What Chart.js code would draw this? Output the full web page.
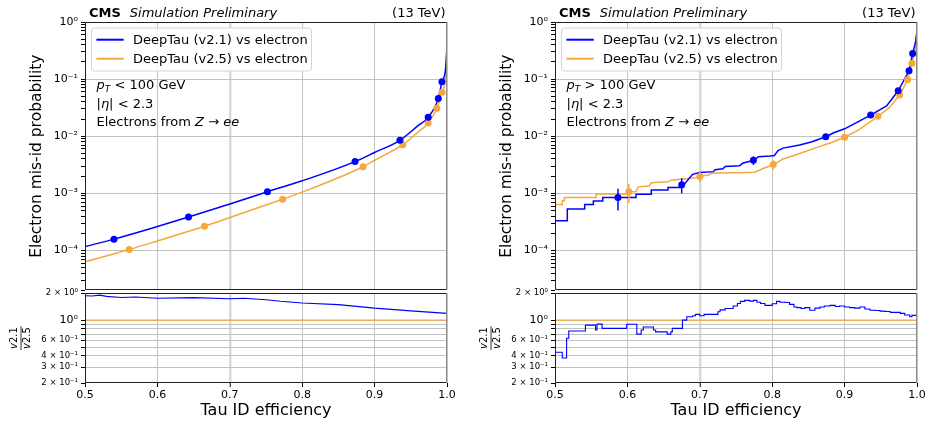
<!DOCTYPE html>
<html><head><meta charset="utf-8">
<script src="https://cdn.jsdelivr.net/npm/chart.js@4.4.1/dist/chart.umd.min.js"></script>
<style>
html,body{margin:0;padding:0;background:#fff;width:927px;height:423px;overflow:hidden;position:relative;}
canvas{position:absolute;}
</style></head><body>
<canvas id="lt" style="left:0px;top:0px" width="460" height="300"></canvas>
<canvas id="lb" style="left:0px;top:285px" width="460" height="138"></canvas>
<canvas id="rt" style="left:470px;top:0px" width="460" height="300"></canvas>
<canvas id="rb" style="left:470px;top:285px" width="460" height="138"></canvas>
<script>
// ---------------- data ----------------
const xTicks = [0.5, 0.6, 0.7, 0.8, 0.9, 1.0];
const probDecades = [1e-4, 1e-3, 1e-2, 1e-1, 1];
const probLabels = ['10⁻⁴', '10⁻³', '10⁻²', '10⁻¹', '10⁰'];
const ratioTicks = [0.2, 0.3, 0.4, 0.5, 0.6, 0.7, 0.8, 0.9, 1, 2];
const ratioLabels = {'0.2': '2 × 10⁻¹', '0.3': '3 × 10⁻¹', '0.4': '4 × 10⁻¹', '0.6': '6 × 10⁻¹', '1': '10⁰', '2': '2 × 10⁰'};
const seriesLabels = ['DeepTau (v2.1) vs electron', 'DeepTau (v2.5) vs electron'];
const headerLeft = ['CMS', 'Simulation Preliminary'];
const headerRight = '(13 TeV)';
const xTitle = 'Tau ID efficiency';
const yTitle = 'Electron mis-id probability';
const refRatio = 1;

// pT < 100 GeV
const lowV21Eff  = [0.500, 0.540, 0.600, 0.643, 0.700, 0.752, 0.800, 0.873, 0.900, 0.935, 0.960, 0.974, 0.988, 0.993, 0.998, 1.000];
const lowV21Prob = [1.17e-4, 1.58e-4, 2.63e-4, 3.85e-4, 6.5e-4, 1.07e-3, 1.66e-3, 3.6e-3, 5.2e-3, 8.5e-3, 1.53e-2, 2.14e-2, 4.6e-2, 8.97e-2, 0.15, 0.38];
const lowV25Eff  = [0.500, 0.561, 0.600, 0.665, 0.700, 0.773, 0.800, 0.884, 0.900, 0.939, 0.960, 0.974, 0.986, 0.993, 0.998, 1.000];
const lowV25Prob = [6.3e-5, 1.04e-4, 1.47e-4, 2.65e-4, 3.77e-4, 7.9e-4, 1.05e-3, 2.92e-3, 3.8e-3, 7.1e-3, 1.18e-2, 1.7e-2, 3.1e-2, 5.9e-2, 0.11, 0.33];
const lowV21MarkEff  = [0.540, 0.643, 0.752, 0.873, 0.935, 0.974, 0.988, 0.993];
const lowV21MarkProb = [1.58e-4, 3.85e-4, 1.07e-3, 3.6e-3, 8.5e-3, 2.14e-2, 4.6e-2, 8.97e-2];
const lowV25MarkEff  = [0.561, 0.665, 0.773, 0.884, 0.939, 0.974, 0.986, 0.993];
const lowV25MarkProb = [1.04e-4, 2.65e-4, 7.9e-4, 2.92e-3, 7.1e-3, 1.7e-2, 3.1e-2, 5.9e-2];
const lowRatioEff = [0.50, 0.51, 0.52, 0.53, 0.55, 0.57, 0.60, 0.65, 0.70, 0.72, 0.75, 0.77, 0.80, 0.85, 0.90, 0.95, 1.00];
const lowRatio    = [1.87, 1.86, 1.90, 1.84, 1.79, 1.81, 1.75, 1.78, 1.73, 1.75, 1.69, 1.62, 1.55, 1.49, 1.36, 1.27, 1.19];

// pT > 100 GeV (polyline vertices, steps kept as vertical pairs)
const highV21Eff  = [0.500, 0.517, 0.517, 0.541, 0.541, 0.553, 0.553, 0.566, 0.566, 0.612, 0.612, 0.633, 0.633, 0.656, 0.656, 0.673, 0.678, 0.690, 0.700, 0.719, 0.721, 0.732, 0.735, 0.755, 0.760, 0.775, 0.781, 0.797, 0.803, 0.808, 0.815, 0.838, 0.855, 0.874, 0.885, 0.900, 0.915, 0.936, 0.958, 0.974, 0.989, 0.994, 0.998, 1.000];
const highV21Prob = [3.3e-4, 3.3e-4, 5.3e-4, 5.3e-4, 6.4e-4, 6.4e-4, 7.35e-4, 7.35e-4, 8.5e-4, 8.5e-4, 9.6e-4, 9.6e-4, 1.15e-3, 1.15e-3, 1.26e-3, 1.26e-3, 1.42e-3, 2.15e-3, 2.32e-3, 2.4e-3, 2.6e-3, 2.7e-3, 2.95e-3, 3.05e-3, 3.4e-3, 3.8e-3, 4.37e-3, 4.5e-3, 4.6e-3, 5.6e-3, 6.2e-3, 7.0e-3, 8.0e-3, 9.8e-3, 1.15e-2, 1.35e-2, 1.7e-2, 2.35e-2, 3.4e-2, 6.25e-2, 0.14, 0.28, 0.45, 0.7];
const highV25Eff  = [0.500, 0.510, 0.510, 0.513, 0.513, 0.557, 0.557, 0.600, 0.605, 0.612, 0.615, 0.630, 0.633, 0.656, 0.660, 0.673, 0.693, 0.700, 0.712, 0.716, 0.776, 0.790, 0.800, 0.815, 0.838, 0.859, 0.880, 0.900, 0.920, 0.946, 0.962, 0.976, 0.987, 0.993, 0.998, 1.000];
const highV25Prob = [6.4e-4, 6.4e-4, 7.45e-4, 7.45e-4, 8.5e-4, 8.5e-4, 9.7e-4, 9.7e-4, 1.07e-3, 1.07e-3, 1.3e-3, 1.35e-3, 1.54e-3, 1.6e-3, 1.7e-3, 1.77e-3, 1.85e-3, 2.0e-3, 2.1e-3, 2.25e-3, 2.35e-3, 2.8e-3, 3.1e-3, 4.0e-3, 5.0e-3, 6.2e-3, 7.6e-3, 9.6e-3, 1.3e-2, 2.23e-2, 3.2e-2, 5.26e-2, 0.097, 0.19, 0.35, 0.65];
const highV21MarkEff  = [0.587, 0.675, 0.774, 0.874, 0.936, 0.974, 0.989, 0.994];
const highV21MarkProb = [8.5e-4, 1.42e-3, 3.8e-3, 9.8e-3, 2.35e-2, 6.25e-2, 0.14, 0.28];
const highV21MarkErr  = [3.5e-4, 4.2e-4, 6.5e-4, 8e-4, 1.2e-3, 2.5e-3, 8e-3, 2e-2];
const highV25MarkEff  = [0.602, 0.700, 0.8015, 0.900, 0.946, 0.976, 0.987, 0.993];
const highV25MarkProb = [1.07e-3, 1.98e-3, 3.2e-3, 9.6e-3, 2.23e-2, 5.26e-2, 0.097, 0.19];
const highV25MarkErr  = [4e-4, 4.2e-4, 6e-4, 8e-4, 1.2e-3, 2.5e-3, 6e-3, 1.5e-2];
const highRatioEff = [0.500, 0.510, 0.516, 0.519, 0.542, 0.556, 0.558, 0.565, 0.599, 0.613, 0.619, 0.622, 0.636, 0.639, 0.655, 0.660, 0.662, 0.667, 0.676, 0.682, 0.690, 0.694, 0.700, 0.706, 0.725, 0.728, 0.735, 0.746, 0.752, 0.756, 0.762, 0.769, 0.774, 0.779, 0.784, 0.790, 0.800, 0.806, 0.811, 0.818, 0.824, 0.830, 0.834, 0.840, 0.845, 0.852, 0.859, 0.866, 0.872, 0.880, 0.887, 0.893, 0.900, 0.907, 0.914, 0.921, 0.928, 0.935, 0.942, 0.949, 0.956, 0.963, 0.970, 0.977, 0.983, 0.990, 0.993, 0.996, 1.000];
const highRatio    = [0.51, 0.44, 0.38, 0.63, 0.757, 0.88, 0.776, 0.904, 0.81, 0.90, 0.70, 0.776, 0.84, 0.776, 0.74, 0.70, 0.74, 0.81, 0.81, 1.00, 1.09, 1.12, 1.16, 1.12, 1.16, 1.24, 1.30, 1.35, 1.44, 1.53, 1.62, 1.66, 1.63, 1.66, 1.58, 1.53, 1.46, 1.52, 1.62, 1.58, 1.57, 1.50, 1.40, 1.38, 1.35, 1.38, 1.29, 1.36, 1.40, 1.44, 1.46, 1.42, 1.44, 1.40, 1.38, 1.36, 1.40, 1.33, 1.29, 1.28, 1.26, 1.25, 1.22, 1.22, 1.19, 1.14, 1.09, 1.13, 1.13];

const lowInfo = [
  [['p', 'i'], ['T', 'sub'], [' < 100 GeV', '']],
  [['|', ''], ['η', 'i'], ['| < 2.3', '']],
  [['Electrons from ', ''], ['Z', 'i'], [' → ', ''], ['ee', 'i']]
];
const highInfo = [
  [['p', 'i'], ['T', 'sub'], [' > 100 GeV', '']],
  [['|', ''], ['η', 'i'], ['| < 2.3', '']],
  [['Electrons from ', ''], ['Z', 'i'], [' → ', ''], ['ee', 'i']]
];

// ---------------- style ----------------
const FONT = '"DejaVu Sans", sans-serif';
const BLUE = '#0000ff', ORANGE = '#f5a83c', GRID = '#c2c2c2';
Chart.defaults.font.family = FONT;
Chart.defaults.color = '#000';

const zip = (xs, ys) => xs.map((x, i) => ({x: x, y: ys[i]}));
const isSeven = c => c.tick && Math.abs(c.tick.value - 0.7) < 1e-9;

function logTicks(min, max, decades) {
  const out = [];
  [decades[0] / 10].concat(decades).forEach(d => {
    for (let m = 1; m <= 9; m++) {
      const v = m * d;
      if (v >= min * 0.999 && v <= max * 1.001) out.push({value: v, major: m === 1});
    }
  });
  return out;
}

function drawRich(ctx, segs, x, y, size) {
  segs.forEach(([t, st]) => {
    const sub = st === 'sub';
    const it = st === 'i' || sub;
    const fs = sub ? size * 0.7 : size;
    ctx.font = (it ? 'italic ' : '') + fs + 'px ' + FONT;
    ctx.fillText(t, x, y + (sub ? size * 0.28 : 0));
    x += ctx.measureText(t).width;
  });
}

const decor = {
  id: 'decor',
  afterDatasetsDraw(chart, args, o) {
    const ctx = chart.ctx, a = chart.chartArea, ys = chart.scales.y;
    ctx.save();
    chart.data.datasets.forEach((ds, i) => {
      if (!ds.errs) return;
      const meta = chart.getDatasetMeta(i);
      ctx.strokeStyle = ds.backgroundColor; ctx.lineWidth = 1.5;
      meta.data.forEach((el, j) => {
        const v = ds.data[j].y, e = ds.errs[j];
        ctx.beginPath();
        ctx.moveTo(el.x, ys.getPixelForValue(v + e));
        ctx.lineTo(el.x, ys.getPixelForValue(v - e));
        ctx.stroke();
      });
    });
    ctx.lineWidth = 1;
    const L = Math.round(a.left) + 0.5, R = Math.round(a.right) - 0.5, T = Math.round(a.top) + 0.5, B = Math.round(a.bottom) - 0.5;
    ctx.strokeStyle = '#8a8a8a';
    ctx.beginPath(); ctx.moveTo(R, T); ctx.lineTo(R, B); ctx.stroke();
    ctx.strokeStyle = '#222';
    ctx.beginPath(); ctx.moveTo(R, T); ctx.lineTo(L, T); ctx.lineTo(L, B); ctx.lineTo(R, B); ctx.stroke();
    ctx.fillStyle = '#000';
    if (o.header) {
      ctx.textBaseline = 'alphabetic'; ctx.textAlign = 'left';
      const y = a.top - 5;
      let x = a.left + 4;
      ctx.font = 'bold 13px ' + FONT; ctx.fillText(headerLeft[0], x, y);
      x += ctx.measureText(headerLeft[0]).width + 9;
      ctx.font = 'italic 13px ' + FONT; ctx.fillText(headerLeft[1], x, y);
      ctx.textAlign = 'right'; ctx.font = '13px ' + FONT;
      ctx.fillText(headerRight, a.right - 1.5, y);
    }
    if (o.legend) {
      const bx = a.left + 6.5, by = a.top + 6, bw = 220, bh = 43, r = 3;
      ctx.beginPath();
      ctx.moveTo(bx + r, by); ctx.lineTo(bx + bw - r, by); ctx.arcTo(bx + bw, by, bx + bw, by + r, r);
      ctx.lineTo(bx + bw, by + bh - r); ctx.arcTo(bx + bw, by + bh, bx + bw - r, by + bh, r);
      ctx.lineTo(bx + r, by + bh); ctx.arcTo(bx, by + bh, bx, by + bh - r, r);
      ctx.lineTo(bx, by + r); ctx.arcTo(bx, by, bx + r, by, r); ctx.closePath();
      ctx.fillStyle = 'rgba(255,255,255,0.85)'; ctx.fill();
      ctx.strokeStyle = '#d4d4d4'; ctx.lineWidth = 1; ctx.stroke();
      [BLUE, ORANGE].forEach((c, k) => {
        const y = by + 11.7 + k * 19;
        ctx.strokeStyle = c; ctx.lineWidth = 2;
        ctx.beginPath(); ctx.moveTo(a.left + 11.4, y); ctx.lineTo(a.left + 38.7, y); ctx.stroke();
        ctx.fillStyle = '#000'; ctx.font = '13px ' + FONT; ctx.textAlign = 'left'; ctx.textBaseline = 'middle';
        ctx.fillText(seriesLabels[k], a.left + 48, y + 0.5);
      });
    }
    if (o.info) {
      ctx.fillStyle = '#000'; ctx.textAlign = 'left'; ctx.textBaseline = 'middle';
      o.info.forEach((segs, k) => drawRich(ctx, segs, a.left + 11.5, a.top + 64 + k * 18.5, 13));
    }
    if (o.frac) {
      const cx = a.left - 64.5, cy = (a.top + a.bottom) / 2;
      ctx.translate(cx, cy); ctx.rotate(-Math.PI / 2);
      ctx.textBaseline = 'middle'; ctx.textAlign = 'left';
      const parts = [['v2.1', -6.5], ['v2.5', 7]];
      ctx.font = '10px ' + FONT;
      const w = ctx.measureText('v2.1').width;
      parts.forEach(([t, dy]) => {
        let x = -w / 2;
        ctx.font = 'italic 10px ' + FONT; ctx.fillText(t[0], x, dy);
        x += ctx.measureText(t[0]).width;
        ctx.font = '10px ' + FONT; ctx.fillText(t.slice(1), x, dy);
      });
      ctx.strokeStyle = '#000'; ctx.lineWidth = 0.8;
      ctx.beginPath(); ctx.moveTo(-w / 2 - 1, 0.5); ctx.lineTo(w / 2 + 1, 0.5); ctx.stroke();
    }
    ctx.restore();
  }
};

function xScale(showTicks) {
  return {
    type: 'linear', min: xTicks[0], max: xTicks[xTicks.length - 1],
    afterBuildTicks: s => { s.ticks = xTicks.map(v => ({value: v})); },
    border: {display: false},
    grid: {color: c => isSeven(c) ? '#dadada' : GRID, lineWidth: c => isSeven(c) ? 2.5 : 1,
           drawTicks: showTicks, tickLength: 4, tickColor: '#000', tickWidth: 1},
    ticks: {display: showTicks, autoSkip: false, maxRotation: 0, padding: 2, font: {size: 11},
            callback: v => Number(v).toFixed(1)},
    title: {display: showTicks, text: xTitle, font: {size: 16}, padding: {top: 0, bottom: 3}},
    afterFit: s => { s.height = showTicks ? 40 : 0; }
  };
}

function probChart(id, lines, marks, info) {
  const datasets = [];
  marks.forEach(m => datasets.push({
    data: zip(m.eff, m.prob), errs: m.err, showLine: false, pointRadius: 3.5, pointHoverRadius: 3.5,
    backgroundColor: m.color, borderColor: m.color, pointBorderWidth: 0
  }));
  lines.forEach(l => datasets.push({
    label: l.label, data: zip(l.eff, l.prob), borderColor: l.color, backgroundColor: l.color,
    borderWidth: 1.5, pointRadius: 0, fill: false,
    cubicInterpolationMode: l.smooth ? 'monotone' : 'default'
  }));
  return new Chart(document.getElementById(id), {
    type: 'line',
    data: {datasets},
    plugins: [decor],
    options: {
      responsive: false, animation: false, devicePixelRatio: 1, events: [],
      layout: {padding: {left: 0, top: 22, right: 13, bottom: 8}},
      plugins: {legend: {display: false}, tooltip: {enabled: false},
                decor: {header: true, legend: true, info: info}},
      scales: {
        x: xScale(false),
        y: {
          type: 'logarithmic', min: 2e-5, max: 1,
          afterBuildTicks: s => { s.ticks = logTicks(2e-5, 1, probDecades); },
          border: {display: false},
          grid: {color: c => (c.tick && c.tick.major) ? GRID : 'rgba(0,0,0,0)', tickColor: '#000',
                 tickLength: 4, drawTicks: true},
          ticks: {autoSkip: false, padding: 3, font: {size: 11},
                  callback: v => { const i = probDecades.findIndex(d => Math.abs(d - v) / d < 1e-6); return i >= 0 ? probLabels[i] : ''; }},
          title: {display: true, text: yTitle, font: {size: 15.5}, padding: {top: 28, bottom: 0}},
          afterFit: s => { s.width = 85; }
        }
      }
    }
  });
}

function ratioChart(id, eff, ratio, stepped) {
  return new Chart(document.getElementById(id), {
    type: 'line',
    data: {datasets: [
      {data: zip(eff, ratio), borderColor: BLUE, borderWidth: 1.1, pointRadius: 0, fill: false,
       stepped: stepped ? 'after' : false},
      {data: [{x: xTicks[0], y: refRatio}, {x: xTicks[xTicks.length - 1], y: refRatio}],
       borderColor: ORANGE, borderWidth: 1.3, pointRadius: 0, fill: false}
    ]},
    plugins: [decor],
    options: {
      responsive: false, animation: false, devicePixelRatio: 1, events: [],
      layout: {padding: {left: 0, top: 7, right: 13, bottom: 0}},
      plugins: {legend: {display: false}, tooltip: {enabled: false}, decor: {frac: true}},
      scales: {
        x: xScale(true),
        y: {
          type: 'logarithmic', min: 0.2, max: 2,
          afterBuildTicks: s => { s.ticks = ratioTicks.map(v => ({value: v, major: v === 1})); },
          border: {display: false},
          grid: {color: c => (c.tick && (c.tick.value === 2 || c.tick.value === 0.2)) ? 'rgba(0,0,0,0)' : GRID,
                 tickColor: '#000', tickLength: 4, drawTicks: true},
          ticks: {autoSkip: false, padding: 3,
                  font: c => ({family: FONT, size: (c.tick && c.tick.value === 1) ? 11 : 8.5}),
                  callback: v => ratioLabels[String(v)] || ''},
          afterFit: s => { s.width = 85; }
        }
      }
    }
  });
}

probChart('lt',
  [{label: seriesLabels[0], eff: lowV21Eff, prob: lowV21Prob, color: BLUE, smooth: true},
   {label: seriesLabels[1], eff: lowV25Eff, prob: lowV25Prob, color: ORANGE, smooth: true}],
  [{eff: lowV21MarkEff, prob: lowV21MarkProb, color: BLUE},
   {eff: lowV25MarkEff, prob: lowV25MarkProb, color: ORANGE}],
  lowInfo);
ratioChart('lb', lowRatioEff, lowRatio, false);
probChart('rt',
  [{label: seriesLabels[0], eff: highV21Eff, prob: highV21Prob, color: BLUE, smooth: false},
   {label: seriesLabels[1], eff: highV25Eff, prob: highV25Prob, color: ORANGE, smooth: false}],
  [{eff: highV21MarkEff, prob: highV21MarkProb, err: highV21MarkErr, color: BLUE},
   {eff: highV25MarkEff, prob: highV25MarkProb, err: highV25MarkErr, color: ORANGE}],
  highInfo);
ratioChart('rb', highRatioEff, highRatio, true);
</script>
</body></html>
